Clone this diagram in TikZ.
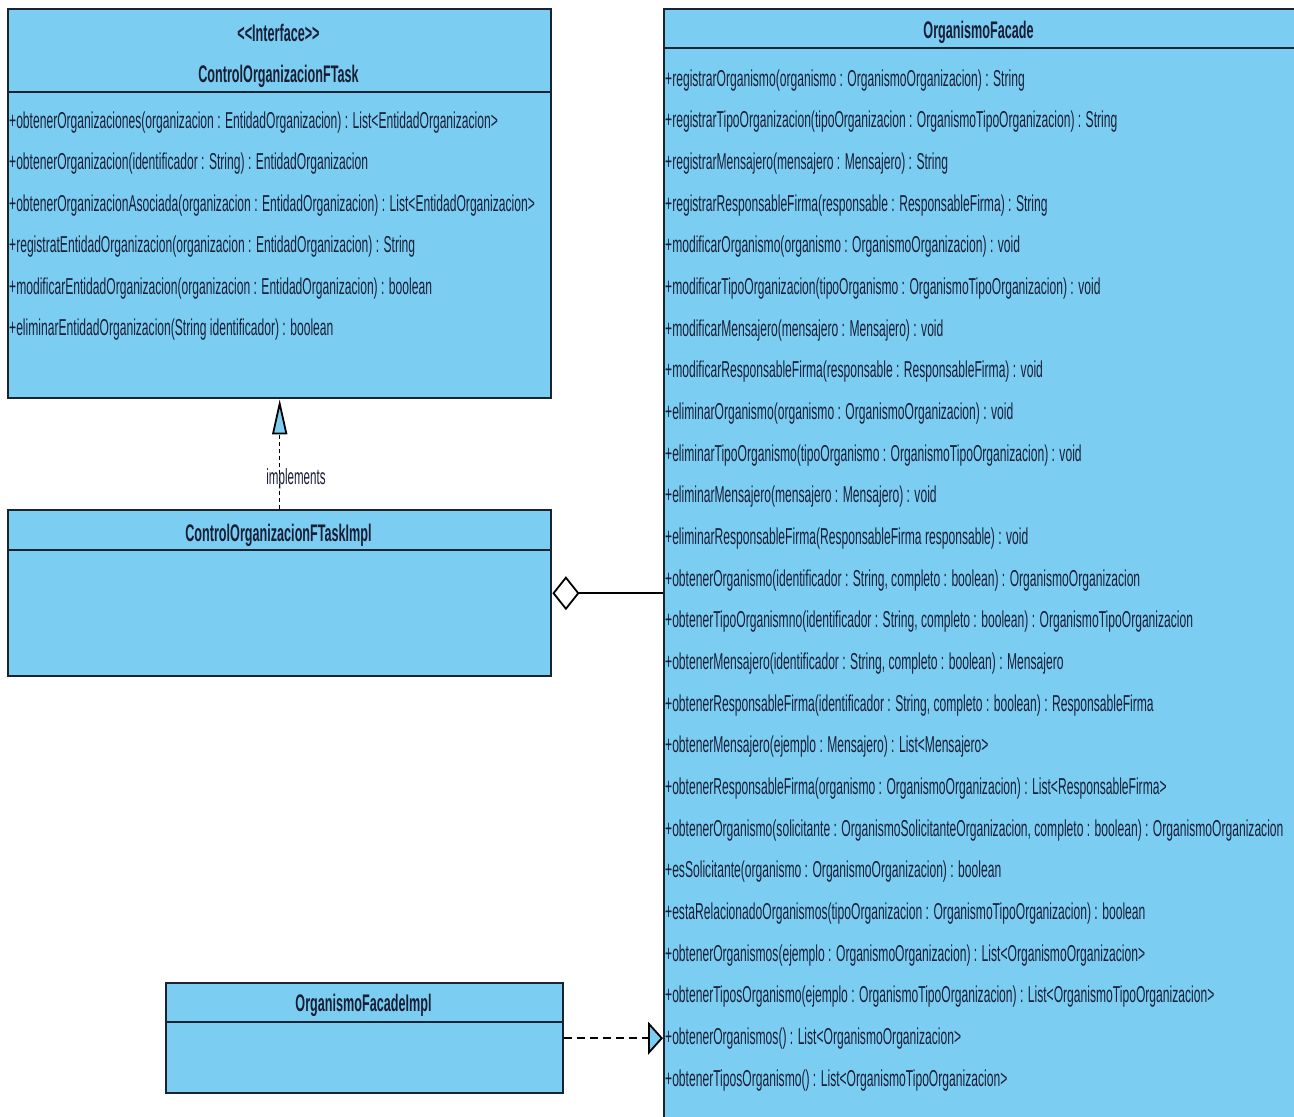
\documentclass[tikz,border=0pt]{standalone}
\usepackage{fontspec}
\newfontfamily\umlfont[FakeStretch=0.526]{Liberation Sans}
\usetikzlibrary{arrows.meta}
\definecolor{umlfill}{RGB}{123,206,242}
\definecolor{umlline}{RGB}{25,35,50}
\definecolor{umltext}{RGB}{25,30,55}
\begin{document}
\begin{tikzpicture}[x=1pt,y=-1pt,
  classbox/.style={draw=umlline, fill=umlfill, line width=2.4pt, rectangle, inner sep=0pt, anchor=north west},
  member/.style={anchor=base west, inner sep=0pt, text=umltext, font=\umlfont\fontsize{23}{26}\selectfont},
  classtitle/.style={anchor=base, inner sep=0pt, text=umltext, font=\umlfont\bfseries\fontsize{24}{27}\selectfont},
  divider/.style={draw=umlline, line width=2.4pt},
  conn/.style={draw=black, line width=1.8pt},
]
\fill[white] (0,0) rectangle (1294,1117);
\clip (0,0) rectangle (1294,1117);
\path[use as bounding box] (0,0) rectangle (1294,1117);

% Interface
\node[classbox, minimum width=543pt, minimum height=389pt] (iface) at (7,8) {};
\draw[divider] (7,92) -- (550,92);
\node[classtitle] (ifst) at (278.5,41.5) {<\kern0pt<Interface>\kern0pt>};
\node[classtitle] (ifname) at (278.5,82.5) {ControlOrganizacionFTask};
\node[member] (i1) at (9,128) {+obtenerOrganizaciones(organizacion : EntidadOrganizacion) : List<EntidadOrganizacion>};
\node[member] (i2) at (9,169.5) {+obtenerOrganizacion(identificador : String) : EntidadOrganizacion};
\node[member] (i3) at (9,211) {+obtenerOrganizacionAsociada(organizacion : EntidadOrganizacion) : List<EntidadOrganizacion>};
\node[member] (i4) at (9,252.5) {+registratEntidadOrganizacion(organizacion : EntidadOrganizacion) : String};
\node[member] (i5) at (9,294) {+modificarEntidadOrganizacion(organizacion : EntidadOrganizacion) : boolean};
\node[member] (i6) at (9,335.5) {+eliminarEntidadOrganizacion(String identificador) : boolean};

% Impl
\node[classbox, minimum width=543pt, minimum height=166pt] (impl) at (7,509) {};
\draw[divider] (7,550) -- (550,550);
\node[classtitle] (implname) at (278.5,541.5) {ControlOrganizacionFTaskImpl};

% FacadeImpl
\node[classbox, minimum width=397pt, minimum height=110pt] (fimpl) at (165,982) {};
\draw[divider] (165,1022) -- (562,1022);
\node[classtitle] (fimplname) at (363.5,1011) {OrganismoFacadeImpl};

% Facade
\node[classbox, minimum width=637pt, minimum height=1117pt] (facade) at (663,8) {};
\draw[divider] (663,48) -- (1300,48);
\node[classtitle] (fname) at (978.5,38.5) {OrganismoFacade};
\node[member] (m1) at (665,86) {+registrarOrganismo(organismo : OrganismoOrganizacion) : String};
\node[member] (m2) at (665,127.7) {+registrarTipoOrganizacion(tipoOrganizacion : OrganismoTipoOrganizacion) : String};
\node[member] (m3) at (665,169.3) {+registrarMensajero(mensajero : Mensajero) : String};
\node[member] (m4) at (665,211) {+registrarResponsableFirma(responsable : ResponsableFirma) : String};
\node[member] (m5) at (665,252.7) {+modificarOrganismo(organismo : OrganismoOrganizacion) : void};
\node[member] (m6) at (665,294.3) {+modificarTipoOrganizacion(tipoOrganismo : OrganismoTipoOrganizacion) : void};
\node[member] (m7) at (665,336) {+modificarMensajero(mensajero : Mensajero) : void};
\node[member] (m8) at (665,377.7) {+modificarResponsableFirma(responsable : ResponsableFirma) : void};
\node[member] (m9) at (665,419.3) {+eliminarOrganismo(organismo : OrganismoOrganizacion) : void};
\node[member] (m10) at (665,461) {+eliminarTipoOrganismo(tipoOrganismo : OrganismoTipoOrganizacion) : void};
\node[member] (m11) at (665,502.7) {+eliminarMensajero(mensajero : Mensajero) : void};
\node[member] (m12) at (665,544.3) {+eliminarResponsableFirma(ResponsableFirma responsable) : void};
\node[member] (m13) at (665,586) {+obtenerOrganismo(identificador : String, completo : boolean) : OrganismoOrganizacion};
\node[member] (m14) at (665,627.7) {+obtenerTipoOrganismno(identificador : String, completo : boolean) : OrganismoTipoOrganizacion};
\node[member] (m15) at (665,669.3) {+obtenerMensajero(identificador : String, completo : boolean) : Mensajero};
\node[member] (m16) at (665,711) {+obtenerResponsableFirma(identificador : String, completo : boolean) : ResponsableFirma};
\node[member] (m17) at (665,752.7) {+obtenerMensajero(ejemplo : Mensajero) : List<Mensajero>};
\node[member] (m18) at (665,794.3) {+obtenerResponsableFirma(organismo : OrganismoOrganizacion) : List<ResponsableFirma>};
\node[member] (m19) at (665,836) {+obtenerOrganismo(solicitante : OrganismoSolicitanteOrganizacion, completo : boolean) : OrganismoOrganizacion};
\node[member] (m20) at (665,877.7) {+esSolicitante(organismo : OrganismoOrganizacion) : boolean};
\node[member] (m21) at (665,919.3) {+estaRelacionadoOrganismos(tipoOrganizacion : OrganismoTipoOrganizacion) : boolean};
\node[member] (m22) at (665,961) {+obtenerOrganismos(ejemplo : OrganismoOrganizacion) : List<OrganismoOrganizacion>};
\node[member] (m23) at (665,1002.7) {+obtenerTiposOrganismo(ejemplo : OrganismoTipoOrganizacion) : List<OrganismoTipoOrganizacion>};
\node[member] (m24) at (665,1044.3) {+obtenerOrganismos() : List<OrganismoOrganizacion>};
\node[member] (m25) at (665,1086) {+obtenerTiposOrganismo() : List<OrganismoTipoOrganizacion>};

% Connectors
\draw[conn, line width=1pt, dash pattern=on 4pt off 3pt,
  -{Triangle[open, fill=umlfill, length=35pt, width=15pt, line width=1.8pt]}]
  (impl.north) -- (iface.south);
\node[member, anchor=base, font=\umlfont\fontsize{22}{25}\selectfont] (implabel) at (296,484) {implements};

\draw[conn, {Diamond[open, fill=white, length=27pt, width=34pt, line width=1.8pt]}-]
  (impl.east) -- (impl.east -| facade.west);

\draw[conn, dash pattern=on 8pt off 5pt,
  -{Triangle[open, fill=umlfill, length=15pt, width=33pt, line width=1.8pt]}]
  (fimpl.east) -- (fimpl.east -| facade.west);
\end{tikzpicture}
\end{document}
